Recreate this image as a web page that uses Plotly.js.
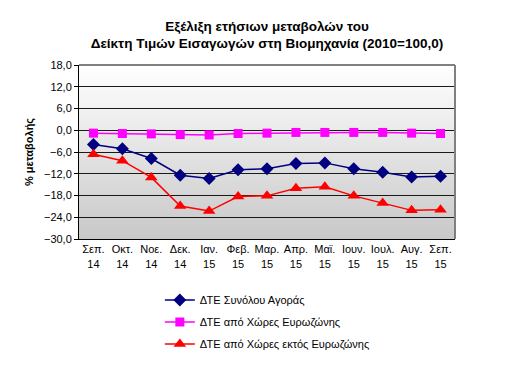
<!DOCTYPE html>
<html><head><meta charset="utf-8">
<script src="https://cdn.plot.ly/plotly-3.0.1.min.js"></script>
<style>html,body{margin:0;padding:0;background:#fff}#c{width:511px;height:382px}</style>
</head><body><div id="c"></div>
<script>
const months = ["Σεπ.<br>14","Οκτ.<br>14","Νοε.<br>14","Δεκ.<br>14","Ιαν.<br>15","Φεβ.<br>15","Μαρ.<br>15","Απρ.<br>15","Μαϊ.<br>15","Ιουν.<br>15","Ιουλ.<br>15","Αυγ.<br>15","Σεπ.<br>15"];
const totalMarket = [-3.9,-5.1,-7.8,-12.4,-13.3,-10.9,-10.6,-9.2,-9.0,-10.6,-11.6,-12.9,-12.7];
const euroZone = [-0.8,-0.9,-1.0,-1.2,-1.3,-0.9,-0.8,-0.6,-0.6,-0.6,-0.6,-0.8,-0.9];
const nonEuroZone = [-6.6,-8.4,-13.0,-20.9,-22.3,-18.3,-18.1,-16.0,-15.6,-18.1,-20.1,-22.1,-21.9];
const seriesNames = ["ΔΤΕ Συνόλου Αγοράς","ΔΤΕ από Χώρες Ευρωζώνης","ΔΤΕ από Χώρες εκτός Ευρωζώνης"];
const yTicks = [18,12,6,0,-6,-12,-18,-24,-30];

const xs = months.map((m,i)=>i);
const traces = [
  {x: xs, y: totalMarket, name: seriesNames[0], type:'scatter', mode:'lines+markers',
   line:{color:'#000080', width:1.5}, marker:{symbol:'diamond', size:10, color:'#000080'}, legendgroup:'a'},
  {x: xs, y: euroZone, name: seriesNames[1], type:'scatter', mode:'lines+markers',
   line:{color:'#FF00FF', width:1.5}, marker:{symbol:'square', size:9, color:'#FF00FF'}, legendgroup:'b'},
  {x: xs, y: nonEuroZone, name: seriesNames[2], type:'scatter', mode:'lines+markers',
   line:{color:'#FF0000', width:1.5}, marker:{symbol:'triangle-up', size:11, color:'#FF0000'}, legendgroup:'c'}
];

const grad = 'data:image/svg+xml;utf8,' + encodeURIComponent(
 '<svg xmlns="http://www.w3.org/2000/svg" width="100" height="100" preserveAspectRatio="none"><defs><linearGradient id="g" x1="0" y1="0" x2="0" y2="1"><stop offset="0" stop-color="#ffffff"/><stop offset="1" stop-color="#c8c8c8"/></linearGradient></defs><rect width="100" height="100" fill="url(#g)"/></svg>');

const layout = {
  width:511, height:382,
  margin:{l:79, r:56, t:65, b:143},
  paper_bgcolor:'#ffffff', plot_bgcolor:'rgba(0,0,0,0)',
  separators:',.',
  font:{family:'Arial, Liberation Sans, sans-serif', size:11, color:'#000'},
  title:{text:'<b>Εξέλιξη ετήσιων μεταβολών του<br>Δείκτη Τιμών Εισαγωγών στη Βιομηχανία (2010=100,0)</b>',
    font:{size:13.5, color:'#000'}, x:0.5, xref:'paper', xanchor:'center', y:0.92, yanchor:'top'},
  xaxis:{range:[-0.5,12.5], tickvals:xs, ticktext:months, showgrid:false, zeroline:false,
    showline:true, linecolor:'#000', linewidth:1, ticks:'', tickfont:{size:11}, fixedrange:true, mirror:false},
  yaxis:{range:[-30,18], tickvals:yTicks, tickformat:'.1f', showgrid:true, gridcolor:'#1a1a1a', gridwidth:1,
    zeroline:false, showline:true, linecolor:'#000', linewidth:1, ticks:'outside', ticklen:4, tickcolor:'#000',
    tickfont:{size:11}, title:{text:'<b>% μεταβολής</b>', font:{size:11}, standoff:8}},
  images:[{source:grad, xref:'paper', yref:'paper', x:0, y:1, sizex:1, sizey:1, sizing:'stretch', layer:'below', xanchor:'left', yanchor:'top'}],
  shapes:[
    {type:'line', xref:'paper', yref:'paper', x0:0, x1:1, y0:1, y1:1, line:{color:'#808080', width:2}},
    {type:'line', xref:'paper', yref:'paper', x0:1, x1:1, y0:0, y1:1, line:{color:'#808080', width:2}}
  ],
  showlegend:true,
  legend:{x:0.215, xanchor:'left', y:-0.267, yanchor:'top', orientation:'v', traceorder:'grouped', tracegroupgap:3,
    font:{size:11}, bgcolor:'rgba(0,0,0,0)'}
};
Plotly.newPlot('c', traces, layout, {displayModeBar:false, staticPlot:true});
</script></body></html>
